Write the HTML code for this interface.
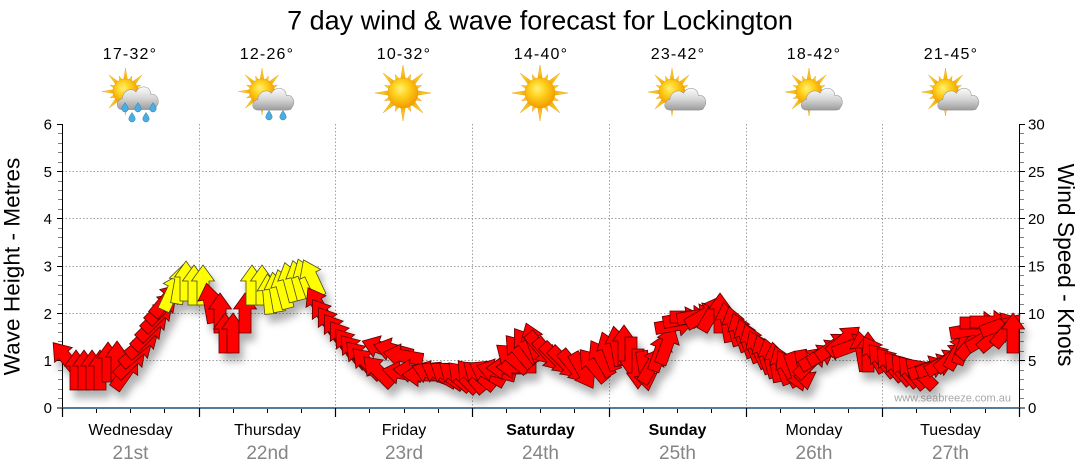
<!DOCTYPE html>
<html><head><meta charset="utf-8"><style>
html,body{margin:0;padding:0;background:#fff;width:1080px;height:475px;overflow:hidden}
svg{display:block;font-family:"Liberation Sans",sans-serif}
</style></head><body>
<svg width="1080" height="475" viewBox="0 0 1080 475" xmlns="http://www.w3.org/2000/svg">
<defs>
<radialGradient id="sb" cx="45%" cy="40%" r="60%" fx="40%" fy="35%">
<stop offset="0" stop-color="#fff176"/><stop offset="0.45" stop-color="#ffd01c"/><stop offset="1" stop-color="#f29a00"/></radialGradient>
<linearGradient id="rg" x1="0" y1="0" x2="0" y2="1"><stop offset="0" stop-color="#ffe030"/><stop offset="1" stop-color="#f0a000"/></linearGradient>
<linearGradient id="cg" x1="0" y1="0" x2="0" y2="1"><stop offset="0" stop-color="#fbfbfb"/><stop offset="0.5" stop-color="#d6d6d6"/><stop offset="1" stop-color="#9c9c9c"/></linearGradient>
<g id="sun">
<g fill="url(#rg)" stroke="#e59400" stroke-width="0.4">
<polygon points="-3,-10 0,-28 3,-10"/>
<polygon points="-3,-10 0,-28 3,-10" transform="rotate(45)"/>
<polygon points="-3,-10 0,-28 3,-10" transform="rotate(90)"/>
<polygon points="-3,-10 0,-28 3,-10" transform="rotate(135)"/>
<polygon points="-3,-10 0,-28 3,-10" transform="rotate(180)"/>
<polygon points="-3,-10 0,-28 3,-10" transform="rotate(225)"/>
<polygon points="-3,-10 0,-28 3,-10" transform="rotate(270)"/>
<polygon points="-3,-10 0,-28 3,-10" transform="rotate(315)"/>
<polygon points="-3,-10 0,-20 3,-10" transform="rotate(22.5)"/>
<polygon points="-3,-10 0,-20 3,-10" transform="rotate(67.5)"/>
<polygon points="-3,-10 0,-20 3,-10" transform="rotate(112.5)"/>
<polygon points="-3,-10 0,-20 3,-10" transform="rotate(157.5)"/>
<polygon points="-3,-10 0,-20 3,-10" transform="rotate(202.5)"/>
<polygon points="-3,-10 0,-20 3,-10" transform="rotate(247.5)"/>
<polygon points="-3,-10 0,-20 3,-10" transform="rotate(292.5)"/>
<polygon points="-3,-10 0,-20 3,-10" transform="rotate(337.5)"/>
</g>
<circle r="15" fill="url(#sb)" stroke="#e8a000" stroke-width="0.5"/>
</g>
<path id="cloud" d="M-16,11 C-23,11 -23,2 -16,1 C-16,-6 -7,-10 -2,-5 C1,-12 13,-11 13,-3 C20,-4 23,4 19,8 C18,11 16,11 14,11 Z" fill="url(#cg)" stroke="#8f8f8f" stroke-width="0.5"/>
<path id="drop" d="M0,-4.5 C2,-1.5 3.2,0.5 3.2,1.8 A3.2,3.2 0 0 1 -3.2,1.8 C-3.2,0.5 -2,-1.5 0,-4.5Z" fill="#4aaee2" stroke="#2a7fb5" stroke-width="0.5"/>
<polygon id="ra" points="0,-20 11.5,-4 6,-4 6,20 -6,20 -6,-4 -11.5,-4" fill="#ff0000" stroke="#5a0000" stroke-width="0.8"/>
<polygon id="ya" points="0,-20 11.5,-4 6,-4 6,20 -6,20 -6,-4 -11.5,-4" fill="#ffff00" stroke="#4a4a20" stroke-width="0.8"/>
<filter id="sh" x="-10%" y="-20%" width="120%" height="160%">
<feDropShadow dx="4" dy="8" stdDeviation="4" flood-color="#000" flood-opacity="0.3"/>
</filter>
</defs>

<!-- title -->
<text x="540" y="29.5" font-size="27" text-anchor="middle" fill="#000">7 day wind &amp; wave forecast for Lockington</text>

<!-- temps -->
<g font-size="16" text-anchor="middle" fill="#000" letter-spacing="1.2">
<text x="130" y="59">17-32°</text>
<text x="267" y="59">12-26°</text>
<text x="404" y="59">10-32°</text>
<text x="541" y="59">14-40°</text>
<text x="678" y="59">23-42°</text>
<text x="814" y="59">18-42°</text>
<text x="951" y="59">21-45°</text>
</g>

<!-- icons -->
<use href="#sun" transform="translate(125.5,91.5) scale(0.84)"/>
<use href="#cloud" transform="translate(138,97.5) scale(0.98,1.1)"/>
<use href="#drop" x="125" y="107"/><use href="#drop" x="138" y="107"/><use href="#drop" x="153" y="107"/>
<use href="#drop" x="132" y="117"/><use href="#drop" x="146" y="117"/>

<use href="#sun" transform="translate(262,91.5) scale(0.84)"/>
<use href="#cloud" transform="translate(273.5,98.5) scale(0.98,1.05)"/>
<use href="#drop" x="269" y="115"/><use href="#drop" x="283" y="115"/>

<use href="#sun" transform="translate(403,93)"/>
<use href="#sun" transform="translate(540,93)"/>

<use href="#sun" transform="translate(672,92) scale(0.86)"/>
<use href="#cloud" transform="translate(685.5,98.5) scale(0.98,1.05)"/>
<use href="#sun" transform="translate(809,92) scale(0.86)"/>
<use href="#cloud" transform="translate(822,98.5) scale(0.98,1.05)"/>
<use href="#sun" transform="translate(945.5,92) scale(0.86)"/>
<use href="#cloud" transform="translate(958.5,98.5) scale(0.98,1.05)"/>

<!-- grid -->
<g stroke="#a0a0a0" stroke-width="1" stroke-dasharray="1.5,2" fill="none">
<path d="M62,360.5H1019M62,313.5H1019M62,266.5H1019M62,218.5H1019M62,171.5H1019"/>
<path d="M199.5,124V408M335.5,124V408M472.5,124V408M609.5,124V408M746.5,124V408M882.5,124V408"/>
</g>

<!-- left axis -->
<path d="M62.5,124V408" stroke="#000" stroke-width="1"/>
<path d="M58,398.5H62M58,389.5H62M58,379.5H62M58,370.5H62M58,351.5H62M58,341.5H62M58,332.5H62M58,323.5H62M58,304.5H62M58,294.5H62M58,285.5H62M58,275.5H62M58,256.5H62M58,247.5H62M58,237.5H62M58,228.5H62M58,209.5H62M58,199.5H62M58,190.5H62M58,181.5H62M58,162.5H62M58,152.5H62M58,143.5H62M58,133.5H62" stroke="#808080" stroke-width="1"/>
<path d="M57,408H62M57,360.5H62M57,313.5H62M57,266.5H62M57,218.5H62M57,171.5H62M57,124.5H62" stroke="#000" stroke-width="1"/>
<g font-size="15" text-anchor="end" fill="#000">
<text x="52" y="413">0</text><text x="52" y="366">1</text><text x="52" y="319">2</text><text x="52" y="271.5">3</text><text x="52" y="224">4</text><text x="52" y="177">5</text><text x="52" y="129.5">6</text>
</g>

<!-- right axis -->
<path d="M1019.5,124V408" stroke="#000" stroke-width="1"/>
<path d="M1020,398.5H1024M1020,389.5H1024M1020,379.5H1024M1020,370.5H1024M1020,351.5H1024M1020,341.5H1024M1020,332.5H1024M1020,323.5H1024M1020,304.5H1024M1020,294.5H1024M1020,285.5H1024M1020,275.5H1024M1020,256.5H1024M1020,247.5H1024M1020,237.5H1024M1020,228.5H1024M1020,209.5H1024M1020,199.5H1024M1020,190.5H1024M1020,181.5H1024M1020,162.5H1024M1020,152.5H1024M1020,143.5H1024M1020,133.5H1024" stroke="#808080" stroke-width="1"/>
<path d="M1020,408H1025M1020,360.5H1025M1020,313.5H1025M1020,266.5H1025M1020,218.5H1025M1020,171.5H1025M1020,124.5H1025" stroke="#000" stroke-width="1"/>
<g font-size="15" text-anchor="start" fill="#000">
<text x="1028" y="413">0</text><text x="1028" y="366">5</text><text x="1028" y="319">10</text><text x="1028" y="271.5">15</text><text x="1028" y="224">20</text><text x="1028" y="177">25</text><text x="1028" y="129.5">30</text>
</g>

<!-- axis titles -->
<text transform="translate(19.5,266.5) rotate(-90)" font-size="22.6" text-anchor="middle" fill="#000">Wave Height - Metres</text>
<text transform="translate(1058,265) rotate(90)" font-size="22.8" text-anchor="middle" fill="#000">Wind Speed - Knots</text>

<!-- watermark -->
<text x="1011" y="401.5" font-size="11" text-anchor="end" fill="#a8a8a8">www.seabreeze.com.au</text>

<!-- arrows -->
<g filter="url(#sh)">
<use href="#ra" transform="translate(66,358) rotate(-40)"/>
<use href="#ra" transform="translate(76,370) rotate(0)"/>
<use href="#ra" transform="translate(84,370) rotate(0)"/>
<use href="#ra" transform="translate(92,370) rotate(0)"/>
<use href="#ra" transform="translate(100,370) rotate(0)"/>
<use href="#ra" transform="translate(108,362) rotate(0)"/>
<use href="#ra" transform="translate(117,361) rotate(0)"/>
<use href="#ra" transform="translate(126,372) rotate(35)"/>
<use href="#ra" transform="translate(131,362) rotate(45)"/>
<use href="#ra" transform="translate(137,352) rotate(50)"/>
<use href="#ra" transform="translate(143,343) rotate(50)"/>
<use href="#ra" transform="translate(148,334) rotate(45)"/>
<use href="#ra" transform="translate(153,325) rotate(45)"/>
<use href="#ra" transform="translate(158,316) rotate(45)"/>
<use href="#ra" transform="translate(162,308) rotate(45)"/>
<use href="#ra" transform="translate(166,300) rotate(40)"/>
<use href="#ya" transform="translate(172,292) rotate(25)"/>
<use href="#ya" transform="translate(180,284) rotate(10)"/>
<use href="#ya" transform="translate(186,281) rotate(0)"/>
<use href="#ya" transform="translate(194,285) rotate(0)"/>
<use href="#ya" transform="translate(203,285) rotate(0)"/>
<use href="#ra" transform="translate(210,303) rotate(-10)"/>
<use href="#ra" transform="translate(220,313) rotate(0)"/>
<use href="#ra" transform="translate(225,333) rotate(0)"/>
<use href="#ra" transform="translate(233,333) rotate(0)"/>
<use href="#ra" transform="translate(245,313) rotate(0)"/>
<use href="#ya" transform="translate(252,285) rotate(0)"/>
<use href="#ya" transform="translate(262,285) rotate(0)"/>
<use href="#ya" transform="translate(269,294) rotate(-5)"/>
<use href="#ya" transform="translate(276,292) rotate(-10)"/>
<use href="#ya" transform="translate(283,289) rotate(-15)"/>
<use href="#ya" transform="translate(290,282) rotate(-15)"/>
<use href="#ya" transform="translate(298,280) rotate(-15)"/>
<use href="#ya" transform="translate(305,278) rotate(-20)"/>
<use href="#ya" transform="translate(312,278) rotate(-25)"/>
<use href="#ra" transform="translate(318,305) rotate(-30)"/>
<use href="#ra" transform="translate(324,316) rotate(-35)"/>
<use href="#ra" transform="translate(330,324) rotate(-35)"/>
<use href="#ra" transform="translate(336,331) rotate(-35)"/>
<use href="#ra" transform="translate(342,338) rotate(-35)"/>
<use href="#ra" transform="translate(348,345) rotate(-38)"/>
<use href="#ra" transform="translate(354,351) rotate(-40)"/>
<use href="#ra" transform="translate(360,357) rotate(-42)"/>
<use href="#ra" transform="translate(367,363) rotate(-45)"/>
<use href="#ra" transform="translate(378,371) rotate(-45)"/>
<use href="#ra" transform="translate(381,348) rotate(-70)"/>
<use href="#ra" transform="translate(393,350) rotate(-75)"/>
<use href="#ra" transform="translate(403,356) rotate(-80)"/>
<use href="#ra" transform="translate(402,373) rotate(-80)"/>
<use href="#ra" transform="translate(413,371) rotate(-85)"/>
<use href="#ra" transform="translate(422,375) rotate(-90)"/>
<use href="#ra" transform="translate(431,373) rotate(-70)"/>
<use href="#ra" transform="translate(439,374) rotate(-60)"/>
<use href="#ra" transform="translate(447,375) rotate(-55)"/>
<use href="#ra" transform="translate(455,376) rotate(-50)"/>
<use href="#ra" transform="translate(463,377) rotate(-45)"/>
<use href="#ra" transform="translate(471,376) rotate(-40)"/>
<use href="#ra" transform="translate(479,375) rotate(-50)"/>
<use href="#ra" transform="translate(487,373) rotate(-60)"/>
<use href="#ra" transform="translate(496,371) rotate(-75)"/>
<use href="#ra" transform="translate(506,368) rotate(-90)"/>
<use href="#ra" transform="translate(516,367) rotate(-90)"/>
<use href="#ra" transform="translate(512,358) rotate(-50)"/>
<use href="#ra" transform="translate(519,351) rotate(-40)"/>
<use href="#ra" transform="translate(526,345) rotate(-35)"/>
<use href="#ra" transform="translate(533,342) rotate(-20)"/>
<use href="#ra" transform="translate(541,349) rotate(140)"/>
<use href="#ra" transform="translate(549,355) rotate(140)"/>
<use href="#ra" transform="translate(557,359) rotate(135)"/>
<use href="#ra" transform="translate(565,363) rotate(135)"/>
<use href="#ra" transform="translate(574,367) rotate(140)"/>
<use href="#ra" transform="translate(583,371) rotate(150)"/>
<use href="#ra" transform="translate(593,365) rotate(-40)"/>
<use href="#ra" transform="translate(601,358) rotate(-30)"/>
<use href="#ra" transform="translate(609,351) rotate(-20)"/>
<use href="#ra" transform="translate(617,346) rotate(-10)"/>
<use href="#ra" transform="translate(624,345) rotate(0)"/>
<use href="#ra" transform="translate(631,357) rotate(180)"/>
<use href="#ra" transform="translate(638,369) rotate(180)"/>
<use href="#ra" transform="translate(645,371) rotate(170)"/>
<use href="#ra" transform="translate(652,365) rotate(30)"/>
<use href="#ra" transform="translate(660,352) rotate(20)"/>
<use href="#ra" transform="translate(667,345) rotate(20)"/>
<use href="#ra" transform="translate(675,325) rotate(80)"/>
<use href="#ra" transform="translate(683,319) rotate(80)"/>
<use href="#ra" transform="translate(690,317) rotate(90)"/>
<use href="#ra" transform="translate(697,316) rotate(80)"/>
<use href="#ra" transform="translate(704,315) rotate(60)"/>
<use href="#ra" transform="translate(712,313) rotate(30)"/>
<use href="#ra" transform="translate(720,313) rotate(0)"/>
<use href="#ra" transform="translate(727,322) rotate(-10)"/>
<use href="#ra" transform="translate(734,326) rotate(-15)"/>
<use href="#ra" transform="translate(740,332) rotate(-20)"/>
<use href="#ra" transform="translate(746,338) rotate(-20)"/>
<use href="#ra" transform="translate(752,343) rotate(-20)"/>
<use href="#ra" transform="translate(758,349) rotate(-25)"/>
<use href="#ra" transform="translate(764,354) rotate(-20)"/>
<use href="#ra" transform="translate(770,358) rotate(-15)"/>
<use href="#ra" transform="translate(776,362) rotate(-10)"/>
<use href="#ra" transform="translate(782,365) rotate(-20)"/>
<use href="#ra" transform="translate(788,368) rotate(-30)"/>
<use href="#ra" transform="translate(796,372) rotate(160)"/>
<use href="#ra" transform="translate(804,370) rotate(170)"/>
<use href="#ra" transform="translate(811,362) rotate(45)"/>
<use href="#ra" transform="translate(818,357) rotate(60)"/>
<use href="#ra" transform="translate(826,352) rotate(60)"/>
<use href="#ra" transform="translate(834,346) rotate(55)"/>
<use href="#ra" transform="translate(844,340) rotate(50)"/>
<use href="#ra" transform="translate(852,346) rotate(70)"/>
<use href="#ra" transform="translate(862,351) rotate(-10)"/>
<use href="#ra" transform="translate(868,352) rotate(0)"/>
<use href="#ra" transform="translate(874,354) rotate(-30)"/>
<use href="#ra" transform="translate(882,360) rotate(-40)"/>
<use href="#ra" transform="translate(890,364) rotate(-40)"/>
<use href="#ra" transform="translate(898,368) rotate(-40)"/>
<use href="#ra" transform="translate(905,370) rotate(-40)"/>
<use href="#ra" transform="translate(912,372) rotate(-40)"/>
<use href="#ra" transform="translate(920,373) rotate(-45)"/>
<use href="#ra" transform="translate(928,368) rotate(70)"/>
<use href="#ra" transform="translate(936,366) rotate(70)"/>
<use href="#ra" transform="translate(944,362) rotate(60)"/>
<use href="#ra" transform="translate(952,357) rotate(50)"/>
<use href="#ra" transform="translate(958,351) rotate(30)"/>
<use href="#ra" transform="translate(964,345) rotate(20)"/>
<use href="#ra" transform="translate(972,342) rotate(40)"/>
<use href="#ra" transform="translate(970,330) rotate(80)"/>
<use href="#ra" transform="translate(980,323) rotate(90)"/>
<use href="#ra" transform="translate(985,338) rotate(60)"/>
<use href="#ra" transform="translate(990,322) rotate(90)"/>
<use href="#ra" transform="translate(995,336) rotate(50)"/>
<use href="#ra" transform="translate(1000,325) rotate(70)"/>
<use href="#ra" transform="translate(1007,330) rotate(40)"/>
<use href="#ra" transform="translate(1013,333) rotate(0)"/>
</g>

<!-- bottom axis -->
<path d="M62,408H1020" stroke="#1f4e79" stroke-width="1.5"/>
<path d="M96.5,409V413M130.5,409V413M164.5,409V413M233.5,409V413M267.5,409V413M301.5,409V413M369.5,409V413M404.5,409V413M438.5,409V413M506.5,409V413M540.5,409V413M574.5,409V413M643.5,409V413M677.5,409V413M711.5,409V413M780.5,409V413M814.5,409V413M848.5,409V413M916.5,409V413M950.5,409V413M985.5,409V413" stroke="#000" stroke-width="1"/>
<path d="M62.5,408V417M199.5,408V417M335.5,408V417M472.5,408V417M609.5,408V417M746.5,408V417M882.5,408V417M1019.5,408V417" stroke="#000" stroke-width="1.2"/>

<!-- day labels -->
<g font-size="16" text-anchor="middle" fill="#000">
<text x="130.5" y="435">Wednesday</text>
<text x="267.5" y="435">Thursday</text>
<text x="404" y="435">Friday</text>
<text x="540.5" y="435" font-weight="bold">Saturday</text>
<text x="677.5" y="435" font-weight="bold">Sunday</text>
<text x="814" y="435">Monday</text>
<text x="950.5" y="435">Tuesday</text>
</g>
<g font-size="19" text-anchor="middle" fill="#858585">
<text x="130.5" y="459">21st</text>
<text x="267.5" y="459">22nd</text>
<text x="404" y="459">23rd</text>
<text x="540.5" y="459">24th</text>
<text x="677.5" y="459">25th</text>
<text x="814" y="459">26th</text>
<text x="950.5" y="459">27th</text>
</g>
</svg>
</body></html>
